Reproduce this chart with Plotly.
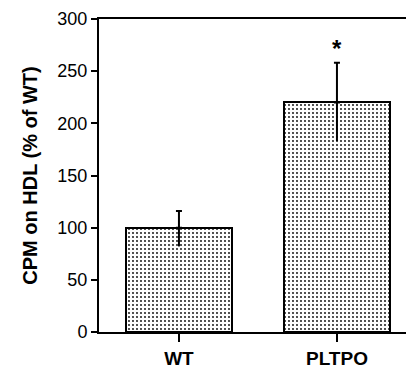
import plotly.graph_objects as go

categories = ["WT", "PLTPO"]
values = [100, 220]
err_plus = [16, 38]
err_minus = [18, 37]
y_ticks = [0, 50, 100, 150, 200, 250, 300]
sig_labels = ["", "*"]

FONT = "Liberation Sans, Arial, sans-serif"

fig = go.Figure()
fig.add_trace(go.Bar(
    x=categories, y=values, width=0.67,
    marker=dict(color="white", line=dict(color="black", width=2),
                pattern=dict(shape=".", fgcolor="black", bgcolor="white",
                             size=4, solidity=0.16, fillmode="replace")),
    showlegend=False, hoverinfo="skip",
))
# upper error with cap
fig.add_trace(go.Scatter(
    x=categories, y=values, mode="markers", marker=dict(size=0.1, color="rgba(0,0,0,0)"),
    error_y=dict(type="data", array=err_plus, arrayminus=[0, 0], symmetric=False,
                 color="black", thickness=2, width=3),
    showlegend=False, hoverinfo="skip",
))
# lower error, no cap
fig.add_trace(go.Scatter(
    x=categories, y=values, mode="markers", marker=dict(size=0.1, color="rgba(0,0,0,0)"),
    error_y=dict(type="data", array=[0, 0], arrayminus=err_minus, symmetric=False,
                 color="black", thickness=2, width=0),
    showlegend=False, hoverinfo="skip",
))
for c, v, e, s in zip(categories, values, err_plus, sig_labels):
    if s:
        fig.add_annotation(x=c, y=v + e, text=s, showarrow=False, yshift=14,
                           font=dict(family=FONT, size=24, color="black", weight="bold"))

fig.update_layout(
    width=406, height=372,
    margin=dict(l=99, r=0, t=19, b=40),
    paper_bgcolor="white", plot_bgcolor="white",
    font=dict(family=FONT, color="black"),
    bargap=0,
)
fig.update_xaxes(
    type="category", range=[-0.506, 1.437],
    showline=True, linecolor="black", linewidth=2, mirror=True,
    ticks="outside", ticklen=8, tickwidth=2, tickcolor="black",
    tickfont=dict(family=FONT, size=19, color="black", weight="bold"),
    showgrid=False, zeroline=False,
)
fig.update_yaxes(
    range=[0, 300], tickvals=y_ticks,
    showline=True, linecolor="black", linewidth=2,
    ticks="outside", ticklen=6, tickwidth=2, tickcolor="black",
    tickfont=dict(family=FONT, size=18, color="black"),
    title=dict(text="CPM on HDL (% of WT)", standoff=14,
               font=dict(family=FONT, size=20, color="black", weight="bold")),
    showgrid=False, zeroline=False,
)

fig.write_html("out.html", config={"displayModeBar": False},
               post_script="document.body.style.margin='0';document.body.style.overflow='hidden';")
